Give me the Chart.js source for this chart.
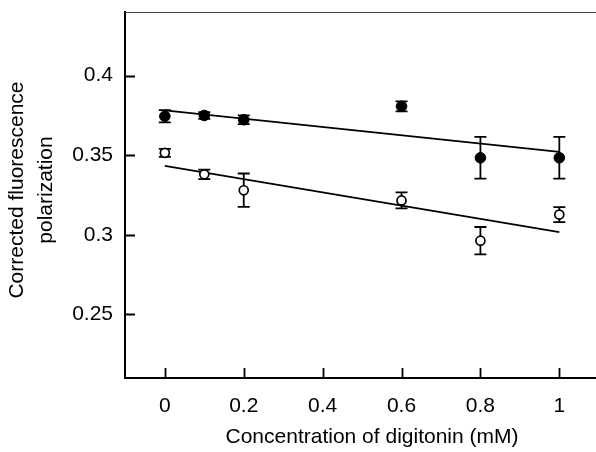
<!DOCTYPE html>
<html>
<head>
<meta charset="utf-8">
<script src="https://cdn.jsdelivr.net/npm/chart.js@4.4.1/dist/chart.umd.min.js"></script>
<style>
  html, body { margin: 0; padding: 0; background: #fff; overflow: hidden; }
  #c { display: block; }
</style>
</head>
<body>
<canvas id="c" width="596" height="452" style="width:596px;height:452px"></canvas>
<script>
// ---- data ----
const concentrations = [0, 0.1, 0.2, 0.6, 0.8, 1];
const filledValues = [0.3745, 0.3750, 0.3723, 0.3807, 0.3484, 0.3484];
const filledErrors = [0.0038, 0.0021, 0.0027, 0.0031, 0.0131, 0.0131];
const openValues = [0.3515, 0.3380, 0.3280, 0.3216, 0.2963, 0.3127];
const openErrors = [0.0025, 0.0030, 0.0105, 0.0050, 0.0086, 0.0047];
const fitX = [0, 1];
const filledFit = [0.3782, 0.3521];
const openFit = [0.3433, 0.3016];
const xTicks = [0, 0.2, 0.4, 0.6, 0.8, 1];
const yTicks = [0.25, 0.3, 0.35, 0.4];
const xTitle = 'Concentration of digitonin (mM)';
const yTitle = ['Corrected fluorescence', 'polarization'];

const toPts = (xs, ys) => xs.map((x, i) => ({ x: x, y: ys[i] }));

const FONT = '"Liberation Sans", Arial, Helvetica, sans-serif';
Chart.defaults.font.family = FONT;
Chart.defaults.font.size = 21;
Chart.defaults.color = '#000';

const errorBars = {
  id: 'errorBars',
  beforeDatasetsDraw(chart) {
    const { ctx, scales: { x, y } } = chart;
    const sets = [[filledValues, filledErrors], [openValues, openErrors]];
    ctx.save();
    ctx.strokeStyle = '#000';
    ctx.lineWidth = 1.8;
    const cap = 6;
    sets.forEach(([vals, errs]) => {
      concentrations.forEach((cx, i) => {
        const px = x.getPixelForValue(cx);
        const top = y.getPixelForValue(vals[i] + errs[i]);
        const bot = y.getPixelForValue(vals[i] - errs[i]);
        ctx.beginPath();
        ctx.moveTo(px, top); ctx.lineTo(px, bot);
        ctx.moveTo(px - cap, top); ctx.lineTo(px + cap, top);
        ctx.moveTo(px - cap, bot); ctx.lineTo(px + cap, bot);
        ctx.stroke();
      });
    });
    ctx.restore();
  }
};

const axisDecor = {
  id: 'axisDecor',
  afterDraw(chart) {
    const { ctx, chartArea: a, scales: { x, y } } = chart;
    ctx.save();
    ctx.strokeStyle = '#000';
    ctx.lineWidth = 1.8;
    ctx.beginPath();
    xTicks.forEach(v => {
      const px = Math.round(x.getPixelForValue(v)) + 0.5;
      ctx.moveTo(px, a.bottom); ctx.lineTo(px, a.bottom - 10);
    });
    yTicks.forEach(v => {
      const py = Math.round(y.getPixelForValue(v)) + 0.5;
      ctx.moveTo(a.left, py); ctx.lineTo(a.left + 10, py);
    });
    ctx.stroke();
    // thin top frame line
    ctx.strokeStyle = '#444';
    ctx.lineWidth = 1.2;
    ctx.beginPath();
    ctx.moveTo(a.left, a.top + 0.5); ctx.lineTo(chart.width, a.top + 0.5);
    ctx.stroke();
    // axis titles
    ctx.fillStyle = '#000';
    ctx.font = '21px ' + FONT;
    ctx.textAlign = 'center';
    ctx.textBaseline = 'middle';
    ctx.fillText(xTitle, 372, 437);
    const yCenters = [17.5, 46];
    yTitle.forEach((line, i) => {
      ctx.save();
      ctx.translate(yCenters[i], 190);
      ctx.rotate(-Math.PI / 2);
      ctx.fillText(line, 0, 0);
      ctx.restore();
    });
    ctx.restore();
  }
};

new Chart(document.getElementById('c'), {
  type: 'scatter',
  data: {
    datasets: [
      {
        label: 'filled',
        data: toPts(concentrations, filledValues),
        showLine: false,
        pointRadius: 5.3,
        pointBackgroundColor: '#000',
        pointBorderColor: '#000',
        pointBorderWidth: 1
      },
      {
        label: 'open',
        data: toPts(concentrations, openValues),
        showLine: false,
        pointRadius: 4.5,
        pointBackgroundColor: '#fff',
        pointBorderColor: '#000',
        pointBorderWidth: 1.7
      },
      {
        label: 'filled fit',
        data: toPts(fitX, filledFit),
        showLine: true,
        borderColor: '#000',
        borderWidth: 1.8,
        pointRadius: 0
      },
      {
        label: 'open fit',
        data: toPts(fitX, openFit),
        showLine: true,
        borderColor: '#000',
        borderWidth: 1.8,
        pointRadius: 0
      }
    ]
  },
  options: {
    responsive: false,
    devicePixelRatio: 1,
    animation: false,
    layout: { autoPadding: false, padding: { top: 12, right: 0, left: 0, bottom: 0 } },
    plugins: { legend: { display: false }, tooltip: { enabled: false } },
    scales: {
      x: {
        type: 'linear',
        min: -0.101,
        max: 1.093,
        afterBuildTicks: s => { s.ticks = xTicks.map(v => ({ value: v })); },
        afterFit: s => { s.height = 74; s.paddingLeft = 0; s.paddingRight = 0; },
        grid: { display: false, drawTicks: false },
        border: { display: true, color: '#000', width: 2 },
        ticks: { padding: 16, color: '#000', callback: v => String(v) },
        title: { display: false }
      },
      y: {
        type: 'linear',
        min: 0.21,
        max: 0.44,
        afterBuildTicks: s => { s.ticks = yTicks.map(v => ({ value: v })); },
        afterFit: s => { s.width = 125; s.paddingTop = 0; s.paddingBottom = 0; },
        grid: { display: false, drawTicks: false },
        border: { display: true, color: '#000', width: 2 },
        ticks: { padding: 12, color: '#000', callback: v => String(v) },
        title: { display: false }
      }
    }
  },
  plugins: [errorBars, axisDecor]
});
</script>
</body>
</html>
